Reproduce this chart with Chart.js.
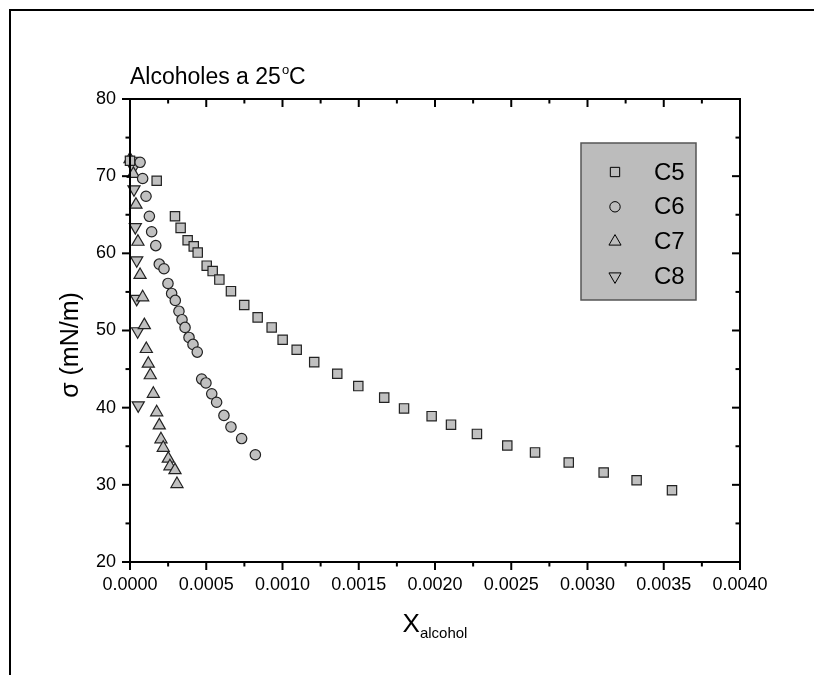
<!DOCTYPE html>
<html>
<head>
<meta charset="utf-8">
<script src="https://cdn.jsdelivr.net/npm/chart.js@4.4.0/dist/chart.umd.min.js"></script>
<style>
  body { margin: 0; background: #fff; }
  canvas { display: block; }
</style>
</head>
<body>
<canvas id="tensionChart" width="814" height="675"></canvas>
<script>
// surface tension of aqueous alcohol solutions, 25 C
const seriesNames = ['C5', 'C6', 'C7', 'C8'];

const c5X = [0, 0.000175, 0.000295, 0.000332, 0.000378, 0.000418, 0.000444, 0.000503, 0.000542, 0.000586,
  0.000662, 0.000749, 0.000837, 0.000929, 0.001001, 0.001093, 0.001208, 0.001359, 0.001497, 0.001667,
  0.001797, 0.001978, 0.002105, 0.002275, 0.002474, 0.002656, 0.002877, 0.003106, 0.003322, 0.003554];
const c5Y = [72.0, 69.4, 64.8, 63.3, 61.7, 60.9, 60.1, 58.4, 57.7, 56.6,
  55.1, 53.3, 51.7, 50.4, 48.8, 47.5, 45.9, 44.4, 42.8, 41.3,
  39.9, 38.9, 37.8, 36.6, 35.1, 34.2, 32.9, 31.6, 30.6, 29.3];

const c6X = [0.000066, 0.000083, 0.000105, 0.000127, 0.000142, 0.000169, 0.000192, 0.000223, 0.000249, 0.000273,
  0.000297, 0.000321, 0.000341, 0.000361, 0.000387, 0.000413, 0.000441, 0.000470, 0.000498, 0.000536,
  0.000568, 0.000616, 0.000662, 0.000732, 0.000822];
const c6Y = [71.8, 69.7, 67.4, 64.8, 62.8, 61.0, 58.6, 58.0, 56.1, 54.8,
  53.9, 52.5, 51.4, 50.4, 49.1, 48.2, 47.2, 43.7, 43.2, 41.8,
  40.7, 39.0, 37.5, 36.0, 33.9];

const c7X = [0, 0.000022, 0.000039, 0.000052, 0.000066, 0.000083, 0.000094, 0.000107, 0.000120, 0.000133,
  0.000153, 0.000175, 0.000192, 0.000203, 0.000218, 0.000251, 0.000262, 0.000295, 0.000308];
const c7Y = [72.2, 70.3, 66.3, 61.5, 57.2, 54.3, 50.7, 47.6, 45.7, 44.2,
  41.8, 39.4, 37.7, 35.9, 34.8, 33.4, 32.4, 31.9, 30.1];

const c8X = [0.000011, 0.000022, 0.000026, 0.000035, 0.000044, 0.000044, 0.000050, 0.000054];
const c8Y = [72.0, 71.1, 68.3, 63.4, 59.1, 54.1, 49.9, 40.3];

const xTicks = [0, 0.0005, 0.001, 0.0015, 0.002, 0.0025, 0.003, 0.0035, 0.004];
const yTicks = [20, 30, 40, 50, 60, 70, 80];

const FONT = "'Liberation Sans', Arial, sans-serif";
const markFill = '#c0c0c0';
const markEdge = '#222';
const legendFill = '#bcbcbc';

const toPoints = (xs, ys) => xs.map((x, i) => ({ x: x, y: ys[i] }));

const styles = [
  { pointStyle: 'rect', radius: 6.6, rotation: 0 },
  { pointStyle: 'circle', radius: 5.2, rotation: 0 },
  { pointStyle: 'triangle', radius: 7, rotation: 0 },
  { pointStyle: 'triangle', radius: 7, rotation: 180 }
];
const seriesData = [toPoints(c5X, c5Y), toPoints(c6X, c6Y), toPoints(c7X, c7Y), toPoints(c8X, c8Y)];

// box, inward/outward ticks, legend and texts
const framePlugin = {
  id: 'frame',
  afterDraw(chart) {
    const { ctx, chartArea: a, scales: { x, y } } = chart;
    ctx.save();
    ctx.strokeStyle = '#000';
    ctx.lineWidth = 2;
    ctx.lineCap = 'butt';

    ctx.beginPath();
    ctx.moveTo(10, 675);
    ctx.lineTo(10, 10);
    ctx.lineTo(814, 10);
    ctx.stroke();

    ctx.strokeRect(a.left, a.top, a.right - a.left, a.bottom - a.top);

    const line = (x1, y1, x2, y2) => {
      ctx.beginPath();
      ctx.moveTo(x1, y1);
      ctx.lineTo(x2, y2);
      ctx.stroke();
    };
    const major = 8, minor = 4.5;
    xTicks.forEach((v, i) => {
      const px = x.getPixelForValue(v);
      line(px, a.bottom, px, a.bottom + major);
      line(px, a.top, px, a.top + major);
      if (i < xTicks.length - 1) {
        const m = x.getPixelForValue((v + xTicks[i + 1]) / 2);
        line(m, a.bottom, m, a.bottom + minor);
        line(m, a.top, m, a.top + minor);
      }
    });
    yTicks.forEach((v, i) => {
      const py = y.getPixelForValue(v);
      line(a.left, py, a.left - major, py);
      line(a.right, py, a.right - major, py);
      if (i < yTicks.length - 1) {
        const m = y.getPixelForValue((v + yTicks[i + 1]) / 2);
        line(a.left, m, a.left - minor, m);
        line(a.right, m, a.right - minor, m);
      }
    });

    // legend
    ctx.fillStyle = legendFill;
    ctx.fillRect(581, 143, 115, 157);
    ctx.strokeStyle = '#555';
    ctx.lineWidth = 1.5;
    ctx.strokeRect(581, 143, 115, 157);
    chart.data.datasets.forEach((ds, i) => {
      const ly = 172 + i * 34.8;
      ctx.fillStyle = legendFill;
      ctx.strokeStyle = '#000';
      ctx.lineWidth = 1;
      Chart.helpers.drawPoint(ctx, {
        pointStyle: styles[i].pointStyle,
        rotation: styles[i].rotation,
        radius: styles[i].radius,
        borderWidth: 1
      }, 615, ly);
      ctx.fillStyle = '#000';
      ctx.font = '24px ' + FONT;
      ctx.textAlign = 'left';
      ctx.textBaseline = 'middle';
      ctx.fillText(ds.label, 654, ly + 1);
    });

    // title with degree sign
    ctx.fillStyle = '#000';
    ctx.textBaseline = 'alphabetic';
    ctx.textAlign = 'left';
    ctx.font = '23px ' + FONT;
    let tx = 130;
    const t1 = 'Alcoholes a 25';
    ctx.fillText(t1, tx, 84);
    tx += ctx.measureText(t1).width + 1;
    ctx.font = '13px ' + FONT;
    ctx.fillText('o', tx, 74);
    tx += ctx.measureText('o').width;
    ctx.font = '23px ' + FONT;
    ctx.fillText('C', tx, 84);

    // x axis title with subscript
    ctx.font = '26px ' + FONT;
    const wX = ctx.measureText('X').width;
    ctx.font = '15px ' + FONT;
    const wSub = ctx.measureText('alcohol').width;
    const cx = (a.left + a.right) / 2 - (wX + wSub) / 2;
    ctx.font = '26px ' + FONT;
    ctx.fillText('X', cx, 632);
    ctx.font = '15px ' + FONT;
    ctx.fillText('alcohol', cx + wX, 638);

    // y axis title
    ctx.translate(78, 345);
    ctx.rotate(-Math.PI / 2);
    ctx.textAlign = 'center';
    ctx.textBaseline = 'alphabetic';
    ctx.font = '25px ' + FONT;
    ctx.fillText('\u03c3 (mN/m)', 0, 0);
    ctx.restore();
  }
};

new Chart(document.getElementById('tensionChart'), {
  type: 'scatter',
  data: {
    datasets: seriesNames.map((name, i) => ({
      label: name,
      data: seriesData[i],
      pointStyle: styles[i].pointStyle,
      rotation: styles[i].rotation,
      pointRadius: styles[i].radius,
      pointHoverRadius: styles[i].radius,
      pointBackgroundColor: markFill,
      pointBorderColor: markEdge,
      pointBorderWidth: 1.2,
      showLine: false,
      clip: false
    }))
  },
  options: {
    responsive: false,
    animation: false,
    layout: { padding: { top: 99, right: 74, left: 0, bottom: 0 } },
    plugins: { legend: { display: false }, tooltip: { enabled: false } },
    scales: {
      x: {
        type: 'linear',
        min: 0,
        max: 0.004,
        afterBuildTicks: s => { s.ticks = xTicks.map(v => ({ value: v })); },
        afterFit: s => { s.height = 113; },
        grid: { display: false, drawTicks: true, tickLength: 8 },
        border: { display: false },
        ticks: {
          color: '#000',
          font: { family: FONT, size: 18 },
          padding: 4,
          maxRotation: 0,
          autoSkip: false,
          callback: v => Number(v).toFixed(4)
        }
      },
      y: {
        type: 'linear',
        min: 20,
        max: 80,
        afterBuildTicks: s => { s.ticks = yTicks.map(v => ({ value: v })); },
        afterFit: s => { s.width = 130; },
        grid: { display: false, drawTicks: true, tickLength: 8 },
        border: { display: false },
        ticks: {
          color: '#000',
          font: { family: FONT, size: 18 },
          padding: 6,
          autoSkip: false,
          callback: v => String(v)
        }
      }
    }
  },
  plugins: [framePlugin]
});
</script>
</body>
</html>
